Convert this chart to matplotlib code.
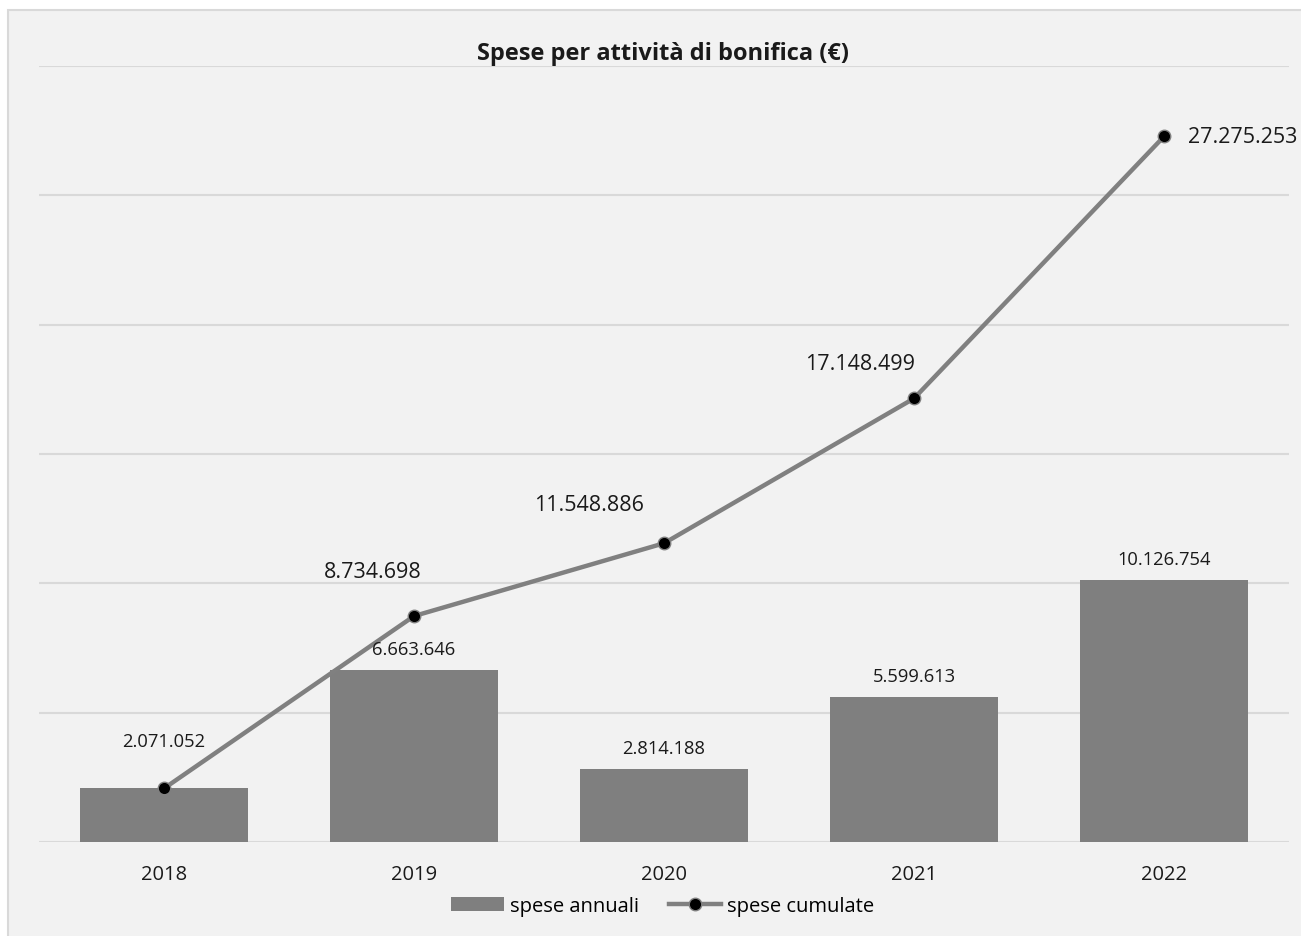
import matplotlib.pyplot as plt
from matplotlib.patches import Rectangle

plt.rcParams['font.family'] = ['Open Sans', 'DejaVu Sans']

anni = ['2018', '2019', '2020', '2021', '2022']
spese_annuali = [2071052, 6663646, 2814188, 5599613, 10126754]
spese_cumulate = [2071052, 8734698, 11548886, 17148499, 27275253]


def fmt_it(v):
    # thousands separator with dots, as in the original
    return f'{v:,}'.replace(',', '.')


fig = plt.figure(figsize=(13.01, 9.37), dpi=100, facecolor='white')
# chart area background with thin border
fig.patches.append(Rectangle((8 / 1301, -0.01), 1.02, (937 - 11) / 937 + 0.01,
                             transform=fig.transFigure, facecolor='#f2f2f2',
                             edgecolor='#d9d9d9', linewidth=1.5, zorder=-5))

ax = fig.add_axes([39 / 1301, (937 - 843) / 937, 1250 / 1301, (843 - 67) / 937])
ax.set_facecolor('none')
ax.set_zorder(2)

x = list(range(len(anni)))
barre = ax.bar(x, spese_annuali, width=0.67, color='#7f7f7f', zorder=2, label='spese annuali')
linea, = ax.plot(x, spese_cumulate, color='#808080', linewidth=3.2, marker='o', markersize=9,
                 markerfacecolor='black', markeredgecolor='#808080', markeredgewidth=1,
                 zorder=3, label='spese cumulate')

ax.set_ylim(0, 30000000)
ax.set_xlim(-0.5, len(anni) - 0.5)
ax.set_yticks(range(0, 30000001, 5000000))
ax.yaxis.grid(True, color='#d9d9d9', linewidth=1.5)
ax.set_axisbelow(True)
ax.tick_params(axis='y', left=False, labelleft=False)
ax.tick_params(axis='x', bottom=False, labelsize=14.5, pad=12, labelcolor='#1a1a1a')
ax.set_xticks(x)
ax.set_xticklabels(anni)
for s in ax.spines.values():
    s.set_visible(False)

# bar labels (2018 is hidden under the line label)
for i, v in enumerate(spese_annuali):
    if i == 0:
        continue
    ax.annotate(fmt_it(v), (i, v), xytext=(0, 15), textcoords='offset points',
                ha='center', va='center', fontsize=13.2, color='#1a1a1a')

# line labels, offsets in points
offs = [(0, 34, 'center'), (-30, 32, 'center'), (-54, 28, 'center'),
        (-39, 25, 'center'), (17, 0, 'left')]
for i, v in enumerate(spese_cumulate):
    dx, dy, ha = offs[i]
    fs = 13.2 if i == 0 else 15.5
    ax.annotate(fmt_it(v), (i, v), xytext=(dx, dy), textcoords='offset points',
                ha=ha, va='center', fontsize=fs, color='#1a1a1a')

fig.text(663 / 1301, 1 - 54 / 937, 'Spese per attività di bonifica (€)',
         ha='center', va='center', fontsize=17, fontweight='bold', color='#1a1a1a')

fig.legend([barre, linea], ['spese annuali', 'spese cumulate'], loc='center',
           bbox_to_anchor=(663 / 1301, 1 - 907 / 937), ncol=2,
           frameon=False, fontsize=14.5, handlelength=2.6, handletextpad=0.3,
           columnspacing=1.5)

fig.savefig('out.png', dpi=100, facecolor=fig.get_facecolor())
